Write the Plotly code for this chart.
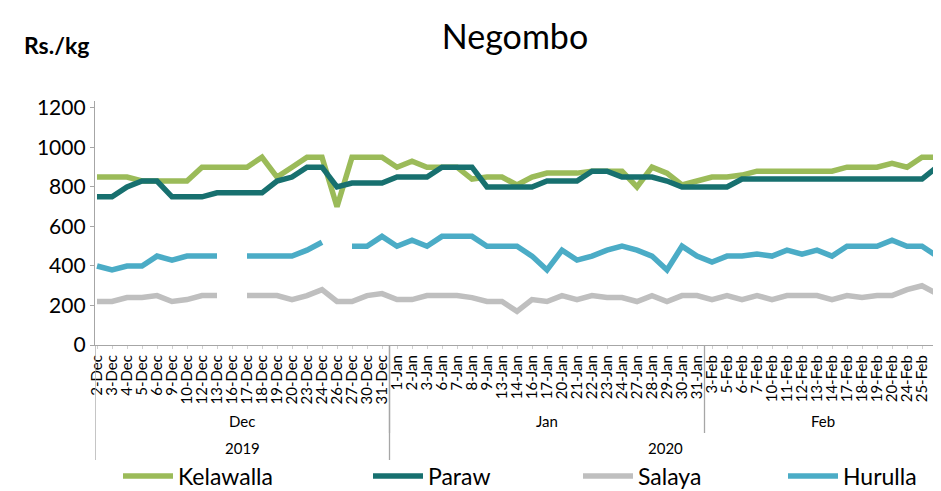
import plotly.graph_objects as go

dates = ["2-Dec", "3-Dec", "4-Dec", "5-Dec", "6-Dec", "9-Dec", "10-Dec", "12-Dec", "13-Dec", "16-Dec",
         "17-Dec", "18-Dec", "19-Dec", "20-Dec", "23-Dec", "24-Dec", "26-Dec", "27-Dec", "30-Dec", "31-Dec",
         "1-Jan", "2-Jan", "3-Jan", "6-Jan", "7-Jan", "8-Jan", "9-Jan", "13-Jan", "14-Jan", "16-Jan",
         "17-Jan", "20-Jan", "21-Jan", "22-Jan", "23-Jan", "24-Jan", "27-Jan", "28-Jan", "29-Jan", "30-Jan",
         "31-Jan",
         "3-Feb", "5-Feb", "6-Feb", "7-Feb", "10-Feb", "11-Feb", "12-Feb", "13-Feb", "14-Feb", "17-Feb",
         "18-Feb", "19-Feb", "20-Feb", "24-Feb", "25-Feb", "26-Feb"]
months = ["Dec", "Jan", "Feb"]
month_counts = [20, 21, 16]
years = ["2019", "2020"]
year_month_counts = [1, 2]  # months per year

kelawalla = [850, 850, 850, 830, 830, 830, 830, 900, 900, 900, 900, 950, 850, 900, 950, 950, 700, 950, 950, 950,
             900, 930, 900, 900, 900, 840, 850, 850, 810, 850, 870, 870, 870, 880, 880, 880, 800, 900, 870, 810, 830,
             850, 850, 860, 880, 880, 880, 880, 880, 880, 900, 900, 900, 920, 900, 950, 950]
paraw = [750, 750, 800, 830, 830, 750, 750, 750, 770, 770, 770, 770, 830, 850, 900, 900, 800, 820, 820, 820,
         850, 850, 850, 900, 900, 900, 800, 800, 800, 800, 830, 830, 830, 880, 880, 850, 850, 850, 830, 800, 800,
         800, 800, 840, 840, 840, 840, 840, 840, 840, 840, 840, 840, 840, 840, 840, 900]
salaya = [220, 220, 240, 240, 250, 220, 230, 250, 250, None, 250, 250, 250, 230, 250, 280, 220, 220, 250, 260,
          230, 230, 250, 250, 250, 240, 220, 220, 170, 230, 220, 250, 230, 250, 240, 240, 220, 250, 220, 250, 250,
          230, 250, 230, 250, 230, 250, 250, 250, 230, 250, 240, 250, 250, 280, 300, 260]
hurulla = [400, 380, 400, 400, 450, 430, 450, 450, 450, None, 450, 450, 450, 450, 480, 520, None, 500, 500, 550,
           500, 530, 500, 550, 550, 550, 500, 500, 500, 450, 380, 480, 430, 450, 480, 500, 480, 450, 380, 500, 450,
           420, 450, 450, 460, 450, 480, 460, 480, 450, 500, 500, 500, 530, 500, 500, 450]

series = [("Kelawalla", kelawalla, "#9BBB59"),
          ("Paraw", paraw, "#17706F"),
          ("Salaya", salaya, "#BFBFBF"),
          ("Hurulla", hurulla, "#4BACC6")]

FONT = "Lato"
OFF = 8                      # page body margin offset
VIEW_W, VIEW_H = 941, 491
W, H = VIEW_W - OFF, VIEW_H - OFF
PL, PR, PT, PB = 95, 941, 101, 345   # plot box in view pixels
plot_h = PB - PT
plot_w = PR - PL

def py(pix):
    return (PB - pix) / plot_h

def px(pix):
    return (pix - PL) / plot_w

x = list(range(len(dates)))
step = 15.0
xmin = -(97 - PL) / step
xmax = xmin + plot_w / step

fig = go.Figure()
legend_px = [118, 368, 578, 783]
for k, (name, vals, col) in enumerate(series):
    lg = "legend" if k == 0 else f"legend{k+1}"
    fig.add_trace(go.Scatter(x=x, y=vals, mode="lines", name=name,
                             line=dict(color=col, width=5.5), connectgaps=False,
                             legend=lg, showlegend=True))

legends = {}
for k in range(4):
    key = "legend" if k == 0 else f"legend{k+1}"
    legends[key] = dict(x=px(legend_px[k]), xanchor="left", y=py(476), yanchor="middle",
                        orientation="h", bgcolor="rgba(0,0,0,0)",
                        font=dict(family=FONT, size=23, color="#000"), itemwidth=50)
fig.update_layout(**legends)

bounds = []
acc = 0
for c in month_counts:
    bounds.append((acc - 0.5, acc + c - 0.5))
    acc += c
bounds[0] = (xmin, bounds[0][1])
bounds[-1] = (bounds[-1][0], xmax)

shapes = []
annots = []
for i, (m, (a, b)) in enumerate(zip(months, bounds)):
    annots.append(dict(x=(a + b) / 2, y=py(421), xref="x", yref="paper", text=m, showarrow=False,
                       font=dict(family=FONT, size=15, color="#000"), yanchor="middle"))
    if i > 0:
        shapes.append(dict(type="line", xref="x", yref="paper", x0=a, x1=a, y0=0, y1=py(433),
                           line=dict(color="#A6A6A6", width=1.3)))
mi = 0
for yname, nm in zip(years, year_month_counts):
    a = bounds[mi][0]
    b = bounds[mi + nm - 1][1]
    annots.append(dict(x=(a + b) / 2, y=py(448), xref="x", yref="paper", text=yname, showarrow=False,
                       font=dict(family=FONT, size=15, color="#000"), yanchor="middle"))
    shapes.append(dict(type="line", xref="x", yref="paper", x0=a, x1=a, y0=0, y1=py(460),
                       line=dict(color="#A6A6A6", width=1.3)))
    mi += nm

annots.append(dict(x=px(22), y=py(45), xref="paper", yref="paper", text="<b>Rs./kg</b>", showarrow=False,
                   xanchor="left", yanchor="middle", font=dict(family=FONT, size=23, color="#000")))

fig.update_layout(
    width=W, height=H,
    margin=dict(l=PL - OFF, r=VIEW_W - PR, t=PT - OFF, b=VIEW_H - PB, autoexpand=False),
    paper_bgcolor="white", plot_bgcolor="white",
    showlegend=True,
    title=dict(text="Negombo", x=(515 - OFF) / W, xref="container", xanchor="center",
               y=1 - (37 - OFF) / H, yref="container", yanchor="middle",
               font=dict(family=FONT, size=34, color="#000")),
    xaxis=dict(range=[xmin, xmax], tickmode="array", tickvals=x, ticktext=dates, tickangle=-90,
               showgrid=False, zeroline=False, showline=True, linecolor="#A6A6A6", linewidth=1.3,
               ticks="outside", ticklen=3, tickcolor="#D0D0D0", automargin=False,
               tickfont=dict(family=FONT, size=15, color="#000")),
    yaxis=dict(range=[0, 1235], tickmode="array", tickvals=[0, 200, 400, 600, 800, 1000, 1200],
               showgrid=False, zeroline=False, showline=True, linecolor="#A6A6A6", linewidth=1.3,
               ticks="outside", ticklen=4, tickcolor="#A6A6A6", automargin=False,
               tickfont=dict(family=FONT, size=21, color="#000")),
    shapes=shapes, annotations=annots,
)

fig.write_html("out.html")
